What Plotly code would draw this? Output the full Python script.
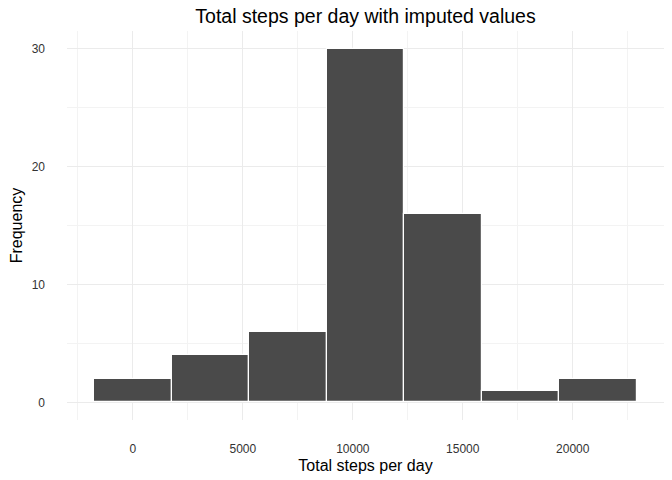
import plotly.graph_objects as go

bin_width = 3525.5
bin_centers = [0, 3525.5, 7051, 10576.5, 14102, 17627.5, 21153]
counts = [2, 4, 6, 30, 16, 1, 2]

x_ticks = [0, 5000, 10000, 15000, 20000]
x_tick_labels = ["0", "5000", "10000", "15000", "20000"]
y_ticks = [0, 10, 20, 30]

fig = go.Figure(go.Bar(
    x=bin_centers, y=counts, width=[bin_width] * len(bin_centers),
    marker=dict(color="#4a4a4a", line=dict(color="white", width=1.2)),
    hoverinfo="skip",
))

font = "Liberation Sans, Arial, sans-serif"
fig.update_layout(
    width=672, height=480,
    margin=dict(l=67, r=8, t=31, b=60),
    paper_bgcolor="white", plot_bgcolor="white",
    showlegend=False, bargap=0,
    font=dict(family=font, color="black"),
    title=dict(text="Total steps per day with imputed values", x=0.5, xanchor="center",
               xref="paper", y=1 - 16/480, yanchor="middle",
               font=dict(size=19.5, color="black", family=font)),
    xaxis=dict(range=[-2996.7, 24149.7], tickvals=x_ticks, ticktext=x_tick_labels,
               automargin=False,
               showgrid=True, gridcolor="#ebebeb", gridwidth=1.1, zeroline=False,
               showline=False, ticks="", ticklabelstandoff=20,
               tickfont=dict(size=12, color="#333333", family=font),
               minor=dict(showgrid=True, dtick=2500, tick0=-2500, gridcolor="#f3f3f3", gridwidth=0.6),
               title=dict(text="Total steps per day", font=dict(size=16, color="black", family=font), standoff=4)),
    yaxis=dict(range=[-1.5, 31.5], tickvals=y_ticks,
               automargin=False,
               showgrid=True, gridcolor="#ebebeb", gridwidth=1.1, zeroline=False,
               showline=False, ticks="", ticklabelstandoff=21,
               tickfont=dict(size=12, color="#333333", family=font),
               minor=dict(showgrid=True, dtick=5, tick0=5, gridcolor="#f3f3f3", gridwidth=0.6),
               title=dict(text="Frequency", font=dict(size=16, color="black", family=font), standoff=5)),
)

fig.write_html("out.html", config={"displayModeBar": False},
               post_script="document.body.style.margin='0';")
